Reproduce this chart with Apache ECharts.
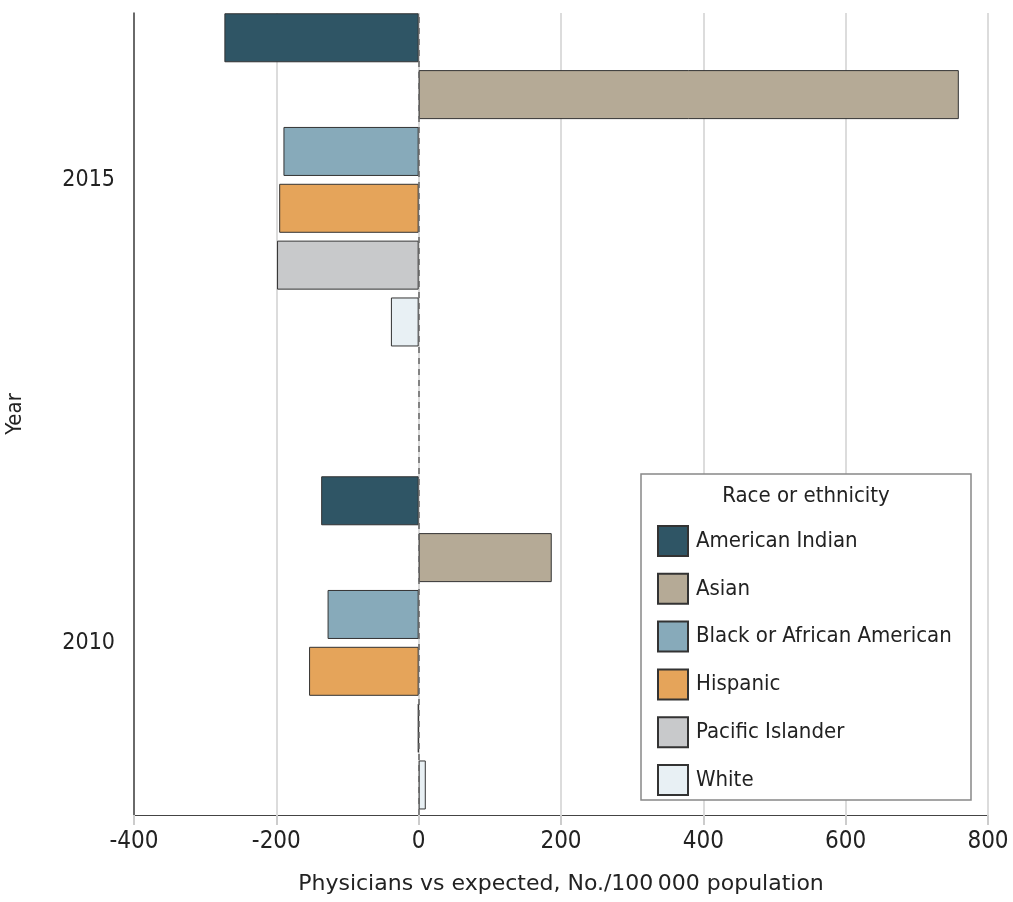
<!DOCTYPE html>
<html>
<head>
<meta charset="utf-8">
<script src="https://cdn.jsdelivr.net/npm/echarts@6/dist/echarts.min.js"></script>
<style>html,body{margin:0;padding:0;background:#fff;}#c{width:1013px;height:902px;}</style>
</head>
<body>
<div id="c"></div>
<script>
const years = [2010, 2015];
const categories = ['American Indian', 'Asian', 'Black or African American', 'Hispanic', 'Pacific Islander', 'White'];
const values2010 = [-137, 187, -128, -154, -1, 10];
const values2015 = [-273, 759, -190, -196, -199, -39];
const colors = ['#2f5565', '#b5aa96', '#87aaba', '#e5a45a', '#c8c9cb', '#e8f0f4'];
const xTickLabels = [-400, -200, 0, 200, 400, 600, 800];
const yearMin = 2008.143, yearMax = 2016.803;

function yearTime(y) {
  const f = Math.floor(y);
  return Date.UTC(f, 0, 1) + (y - f) * 365 * 864e5;
}
// ECharts widens a time base axis to make room for bar groups; pre-shrink the range so that
// after its widening the axis spans exactly [yearMin, yearMax].
const BAR_W = 49, BAR_GAP = 0.16, PLOT_H = 802;
const groupPx = categories.length * BAR_W + (categories.length - 1) * BAR_W * BAR_GAP;
const tMin = yearTime(yearMin), tMax = yearTime(yearMax);
const tMid = (tMin + tMax) / 2, tHalf = (tMax - tMin) / 2 * (1 - groupPx / PLOT_H);

const FONT = 'DejaVu Sans Condensed';
const FONT_WIDE = 'DejaVu Sans';
const chart = echarts.init(document.getElementById('c'));
const series = categories.map((name, i) => ({
  name: name,
  type: 'bar',
  yAxisIndex: 0,
  barWidth: BAR_W,
  barGap: (BAR_GAP * 100) + '%',
  itemStyle: { color: colors[i], borderColor: '#333', borderWidth: 1 },
  data: [[values2010[i], yearTime(years[0])], [values2015[i], yearTime(years[1])]],
  markLine: i === 0 ? {
    silent: true, symbol: 'none', label: { show: false },
    lineStyle: { color: '#666', type: [6, 5], width: 1.5 },
    data: [{ xAxis: 0 }]
  } : undefined
}));
chart.setOption({
  animation: false,
  textStyle: { fontFamily: FONT },
  grid: { left: 134, right: 25, top: 13, bottom: 87, containLabel: false, outerBoundsMode: 'none' },
  xAxis: {
    type: 'value', min: xTickLabels[0], max: xTickLabels[xTickLabels.length - 1], interval: 200,
    name: 'Physicians vs expected, No./100\u2009000 population',
    nameLocation: 'middle', nameGap: 58,
    nameTextStyle: { fontSize: 22, color: '#222', fontFamily: FONT_WIDE },
    axisLine: { show: true, onZero: false, lineStyle: { color: '#444', width: 1 } },
    axisTick: { show: true, length: 10, lineStyle: { color: '#ccc', width: 2 } },
    axisLabel: { fontSize: 24, color: '#222', margin: 15, fontFamily: FONT },
    splitLine: { show: true, lineStyle: { color: '#dcdcdc', width: 2 } }
  },
  yAxis: [{
    type: 'time', min: tMid - tHalf, max: tMid + tHalf,
    axisLine: { show: true, onZero: false, lineStyle: { color: '#444', width: 1.5 } },
    axisTick: { show: false },
    splitLine: { show: false },
    axisLabel: { show: false }
  }, {
    type: 'value', position: 'left', min: yearMin, max: yearMax,
    name: 'Year', nameLocation: 'middle', nameGap: 108, nameRotate: 90,
    nameTextStyle: { fontSize: 22, color: '#222', fontFamily: FONT },
    axisLine: { show: false, onZero: false },
    axisTick: { show: false },
    splitLine: { show: false },
    axisLabel: {
      customValues: years,
      formatter: v => String(v),
      fontSize: 23, color: '#222', margin: 19, fontFamily: FONT,
      padding: [6, 0, 0, 0]
    }
  }],
  legend: {
    orient: 'vertical', left: 657, top: 525, itemWidth: 30, itemHeight: 30, itemGap: 15.8,
    icon: 'rect', padding: 0,
    textStyle: { fontSize: 22, color: '#222', fontFamily: FONT, padding: [0, 0, 0, 3] },
    data: categories
  },
  graphic: [
    { type: 'rect', z: 3, shape: { x: 641, y: 474, width: 330, height: 326 },
      style: { fill: '#fff', stroke: '#888', lineWidth: 1.5 } },
    { type: 'text', z: 4, x: 806, y: 496,
      style: { text: 'Race or ethnicity', fontSize: 22, fill: '#222', fontFamily: FONT, textAlign: 'center', textVerticalAlign: 'middle' } }
  ],
  series: series
});
</script>
</body>
</html>
